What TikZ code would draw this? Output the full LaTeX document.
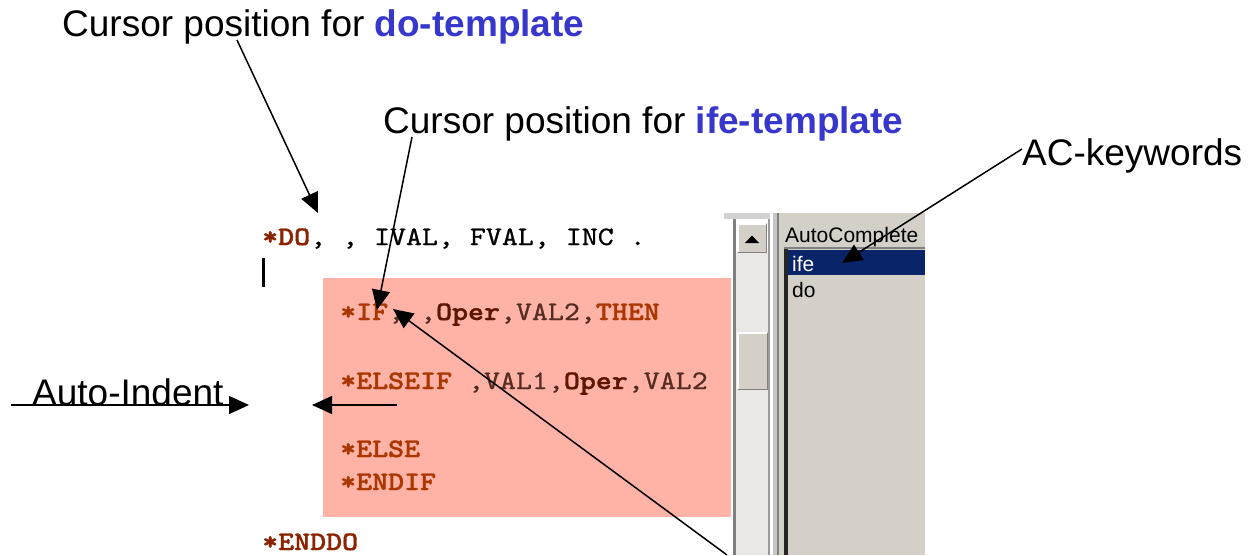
\documentclass[tikz,border=0pt]{standalone}
\usepackage{fontspec}
\setmainfont{Liberation Sans}
\newfontfamily\codefont[FakeStretch=1.14, FakeBold=0.8, BoldFont=lmmonolt10-bold.otf, BoldFeatures={FakeStretch=1.14, FakeBold=1.2}]{lmmono10-regular.otf}
\usetikzlibrary{arrows.meta}
\definecolor{pinkbg}{RGB}{255,178,166}
\definecolor{kw}{RGB}{170,55,0}
\definecolor{kwdark}{RGB}{140,35,0}
\definecolor{oper}{RGB}{95,22,0}
\definecolor{valc}{RGB}{85,45,35}
\definecolor{tblue}{RGB}{55,55,205}
\definecolor{panelgray}{RGB}{212,208,200}
\definecolor{trackgray}{RGB}{234,232,228}
\definecolor{selnavy}{RGB}{10,36,106}
\definecolor{framegray}{RGB}{128,128,128}
\tikzset{
  lbl/.style={inner sep=0pt, anchor=base west, font=\fontsize{37}{40}\selectfont},
  codeline/.style={inner sep=0pt, anchor=base west, font=\codefont\fontsize{26.7}{28}\selectfont},
  ptr/.style={line width=1.5pt, -{Triangle[length=20pt,width=18pt]}},
  uitext/.style={inner sep=0pt, anchor=base west, font=\fontsize{21}{23}\selectfont},
}
\begin{document}
\begin{tikzpicture}[x=1pt,y=-1pt]
\useasboundingbox (0,0) rectangle (1250,555);
\fill[white] (0,0) rectangle (1250,555);

% pink highlight area
\fill[pinkbg] (323,278) rectangle (731,517);

% editor frame / scrollbar
\fill[gray!35] (724,213) rectangle (781,219);
\fill[framegray] (733,219) rectangle (736,555);
\fill[trackgray] (736,253) rectangle (768,555);
\fill[framegray!80] (768,219) rectangle (770,555);
\fill[white] (770,213) rectangle (773,555);
\fill[gray!45] (773,213) rectangle (777,555);
\fill[framegray] (777,213) rectangle (779,555);
\fill[panelgray] (779,213) rectangle (783,555);
% up button
\fill[panelgray] (737,223) rectangle (767,253);
\draw[white, line width=1.5pt] (737.75,252) -- (737.75,223.75) -- (766,223.75);
\draw[framegray, line width=1.5pt] (738,252.25) -- (766.25,252.25) -- (766.25,224);
\fill[black] (745,243) -- (759,243) -- (752,235.5) -- cycle;
% thumb
\fill[panelgray] (737,332) rectangle (768,390);
\draw[white, line width=1.5pt] (737.75,389) -- (737.75,332.75) -- (767,332.75);
\draw[framegray, line width=1.5pt] (738,389.25) -- (767.25,389.25) -- (767.25,333);

% AutoComplete panel
\fill[panelgray] (783,213) rectangle (925,555);
\node[uitext] (achead) at (785,242) {AutoComplete};
\fill[framegray] (784,247) rectangle (925,249);
\fill[gray!30!black] (784,249) rectangle (788,555);
\fill[selnavy] (788,250) rectangle (925,275);
\node[uitext, text=white] (ife) at (792,271) {ife};
\node[uitext] (do) at (792,297) {do};

% code
\node[codeline] (l1) at (262,245) {\textbf{\textcolor{kwdark}{*DO}},\ ,\ IVAL,\ FVAL,\ INC\ .};
\fill[black] (262,258) rectangle (265,287);
\node[codeline, text=valc] (l2) at (340,320) {\textbf{\textcolor{kw}{*IF}},\ ,\textbf{\textcolor{oper}{Oper}},VAL2,\textbf{\textcolor{kw}{THEN}}};
\node[codeline, text=valc] (l3) at (340,389) {\textbf{\textcolor{kw}{*ELSEIF}}\ ,VAL1,\textbf{\textcolor{oper}{Oper}},VAL2};
\node[codeline] (l4) at (340,457) {\textbf{\textcolor{kw}{*ELSE}}};
\node[codeline] (l5) at (340,490) {\textbf{\textcolor{kw}{*ENDIF}}};
\node[codeline] (l6) at (262,550) {\textbf{\textcolor{kwdark}{*ENDDO}}};

% labels
\node[lbl] (ldo) at (62,36) {Cursor position for \textcolor{tblue}{\bfseries do-template}};
\node[lbl] (life) at (383,133) {Cursor position for \textcolor{tblue}{\bfseries ife-template}};
\node[lbl] (lac) at (1022,165) {AC-keywords};
\node[lbl] (lai) at (32,405) {Auto-Indent};

% connector end points
\coordinate (dos) at (237,40);
\coordinate (dot) at (318,213);
\coordinate (ifs) at (412,137);
\coordinate (ift) at (377,310);
\coordinate (acs) at (1022,149);
\coordinate (act) at (842,263);
\coordinate (lgs) at (727,555);
\coordinate (lgt) at (393,309);
\coordinate (ais) at (11,405);
\coordinate (ait) at (249,405);
\coordinate (ins) at (397,405);
\coordinate (int) at (312,405);

\draw[ptr] (dos) -- (dot);
\draw[ptr] (ifs) -- (ift);
\draw[ptr] (acs) -- (act);
\draw[ptr] (lgs) -- (lgt);
\draw[ptr] (ais) -- (ait);
\draw[ptr] (ins) -- (int);
\end{tikzpicture}
\end{document}
